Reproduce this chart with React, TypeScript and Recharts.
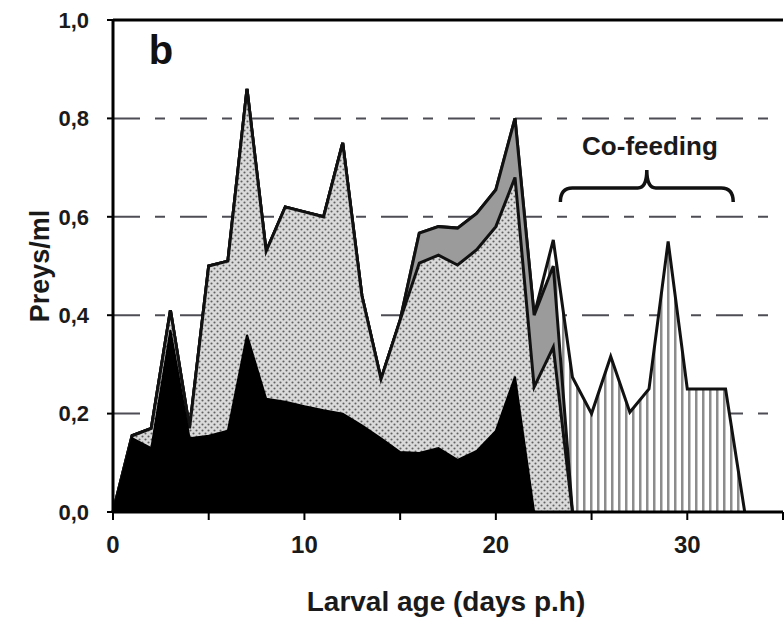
import React from "react";
import {
  AreaChart,
  Area,
  XAxis,
  YAxis,
  CartesianGrid,
  ReferenceLine,
  ReferenceArea,
  ReferenceDot,
  Label,
} from "recharts";

// larval age, days post hatch
const days = [
  0, 1, 2, 3, 4, 5, 6, 7, 8, 9, 10, 11, 12, 13, 14, 15, 16, 17, 18, 19, 20, 21,
  22, 23, 24, 25, 26, 27, 28, 29, 30, 31, 32, 33,
];

// upper edge of each layer (preys/ml)
const blackTop = [
  0, 0.15, 0.13, 0.37, 0.15, 0.155, 0.165, 0.36, 0.23, 0.224, 0.215, 0.207, 0.2,
  0.176, 0.15, 0.122, 0.12, 0.13, 0.106, 0.124, 0.165, 0.275, 0,
];
const dottedTop = [
  0, 0.155, 0.17, 0.41, 0.17, 0.5, 0.51, 0.86, 0.53, 0.62, 0.61, 0.6, 0.75, 0.44,
  0.27, 0.39, 0.506, 0.522, 0.502, 0.533, 0.58, 0.68, 0.254, 0.335, 0,
];
const grayTop = [
  0, 0.155, 0.17, 0.41, 0.17, 0.5, 0.51, 0.86, 0.53, 0.62, 0.61, 0.6, 0.75, 0.44,
  0.27, 0.39, 0.567, 0.58, 0.577, 0.607, 0.655, 0.8, 0.4, 0.5, 0,
];
const totalTop = [
  0, 0.155, 0.17, 0.41, 0.17, 0.5, 0.51, 0.86, 0.53, 0.62, 0.61, 0.6, 0.75, 0.44,
  0.27, 0.39, 0.567, 0.58, 0.577, 0.607, 0.655, 0.8, 0.4, 0.553, 0.274, 0.2,
  0.316, 0.203, 0.25, 0.55, 0.25, 0.25, 0.25, 0,
];

const xTicks = [0, 5, 10, 15, 20, 25, 30, 35];
const yTicks = [0, 0.2, 0.4, 0.6, 0.8, 1.0];

const FONT = '"Liberation Sans", Arial, Helvetica, sans-serif';

const data = days.map((day, i) => ({
  day,
  black: blackTop[i] ?? null,
  dotted: dottedTop[i] ?? null,
  gray: grayTop[i] ?? null,
  total: totalTop[i] ?? null,
}));

function YTitle(props: any) {
  const vb = props.viewBox || { x: 0, y: 20, width: 113, height: 492 };
  const cx = vb.x + 40;
  const cy = vb.y + vb.height / 2;
  return (
    <text
      x={cx}
      y={cy}
      transform={`rotate(-90 ${cx} ${cy})`}
      textAnchor="middle"
      dominantBaseline="central"
      fontFamily={FONT}
      fontWeight="bold"
      fontSize={27}
      fill="#1a1a1a"
    >
      Preys/ml
    </text>
  );
}

function XTitle(props: any) {
  const vb = props.viewBox || { x: 113, y: 512, width: 670, height: 108 };
  return (
    <text
      x={vb.x + vb.width / 2 - 2}
      y={vb.y + vb.height - 9}
      textAnchor="middle"
      fontFamily={FONT}
      fontWeight="bold"
      fontSize={28}
      fill="#1a1a1a"
    >
      Larval age (days p.h)
    </text>
  );
}

function Brace(props: any) {
  const { x, y, width: w, height: h } = props;
  const cx = x + w / 2;
  const by = y + h * 0.56;
  const d = [
    `M ${x} ${y + h}`,
    `Q ${x} ${by} ${x + 12} ${by}`,
    `L ${cx - 9} ${by}`,
    `Q ${cx} ${by} ${cx} ${y}`,
    `Q ${cx} ${by} ${cx + 9} ${by}`,
    `L ${x + w - 12} ${by}`,
    `Q ${x + w} ${by} ${x + w} ${y + h}`,
  ].join(" ");
  return <path d={d} fill="none" stroke="#111" strokeWidth={3.5} />;
}

export default function App() {
  return (
    <div
      style={{
        position: "absolute",
        left: 0,
        top: 0,
        width: 784,
        height: 620,
        background: "#fff",
      }}
    >
      <AreaChart
        width={784}
        height={620}
        data={data}
        margin={{ top: 20, right: 1, bottom: 0, left: 0 }}
      >
        <defs>
          <pattern id="dots" width="6" height="6" patternUnits="userSpaceOnUse">
            <rect width="6" height="6" fill="#dadada" />
            <circle cx="1.5" cy="1.5" r="1.05" fill="#606060" />
            <circle cx="4.5" cy="4.5" r="1.05" fill="#606060" />
          </pattern>
          <pattern id="vlines" width="7" height="7" patternUnits="userSpaceOnUse">
            <rect width="7" height="7" fill="#fff" />
            <rect x="2" width="2.5" height="7" fill="#8c8c8c" />
          </pattern>
        </defs>
        <CartesianGrid
          vertical={false}
          stroke="#4d4d55"
          strokeWidth={2}
          strokeDasharray="27 15 10 15"
        />
        <XAxis
          dataKey="day"
          type="number"
          domain={[0, 35]}
          ticks={xTicks}
          interval={0}
          tickFormatter={(v: number) => (v % 10 === 0 ? String(v) : "")}
          height={108}
          tickSize={8}
          tickMargin={16}
          axisLine={{ stroke: "#000", strokeWidth: 3 }}
          tickLine={{ stroke: "#000", strokeWidth: 2 }}
          tick={{ fill: "#1a1a1a", fontSize: 24, fontWeight: "bold", fontFamily: FONT }}
        >
          <Label content={XTitle} />
        </XAxis>
        <YAxis
          type="number"
          domain={[0, 1]}
          ticks={yTicks}
          interval={0}
          tickFormatter={(v: number) => v.toFixed(1).replace(".", ",")}
          width={113}
          tickSize={6}
          tickMargin={18}
          axisLine={{ stroke: "#000", strokeWidth: 3 }}
          tickLine={{ stroke: "#000", strokeWidth: 2 }}
          tick={{ fill: "#1a1a1a", fontSize: 22, fontWeight: "bold", fontFamily: FONT }}
        >
          <Label content={YTitle} />
        </YAxis>
        <Area
          type="linear"
          dataKey="total"
          stroke="#111"
          strokeWidth={3}
          fill="url(#vlines)"
          fillOpacity={1}
          dot={false}
          activeDot={false}
          isAnimationActive={false}
        />
        <Area
          type="linear"
          dataKey="gray"
          stroke="#111"
          strokeWidth={3}
          fill="#9b9b9b"
          fillOpacity={1}
          dot={false}
          activeDot={false}
          isAnimationActive={false}
        />
        <Area
          type="linear"
          dataKey="dotted"
          stroke="#111"
          strokeWidth={3}
          fill="url(#dots)"
          fillOpacity={1}
          dot={false}
          activeDot={false}
          isAnimationActive={false}
        />
        <Area
          type="linear"
          dataKey="black"
          stroke="#000"
          strokeWidth={2}
          fill="#000"
          fillOpacity={1}
          dot={false}
          activeDot={false}
          isAnimationActive={false}
        />
        <ReferenceLine y={1} stroke="#000" strokeWidth={3} />
        <ReferenceArea
          x1={23.37}
          x2={32.4}
          y1={0.63}
          y2={0.695}
          shape={Brace}
        />
        <ReferenceDot
          x={28.05}
          y={0.725}
          r={0}
          shape={(p: any) => (
            <text
              x={p.cx}
              y={p.cy}
              textAnchor="middle"
              fontFamily={FONT}
              fontWeight="bold"
              fontSize={26}
              fill="#1a1a1a"
            >
              Co-feeding
            </text>
          )}
        />
        <ReferenceDot
          x={2.5}
          y={0.91}
          r={0}
          shape={(p: any) => (
            <text
              x={p.cx}
              y={p.cy}
              textAnchor="middle"
              fontFamily={FONT}
              fontWeight="bold"
              fontSize={40}
              fill="#111"
            >
              b
            </text>
          )}
        />
      </AreaChart>
    </div>
  );
}
